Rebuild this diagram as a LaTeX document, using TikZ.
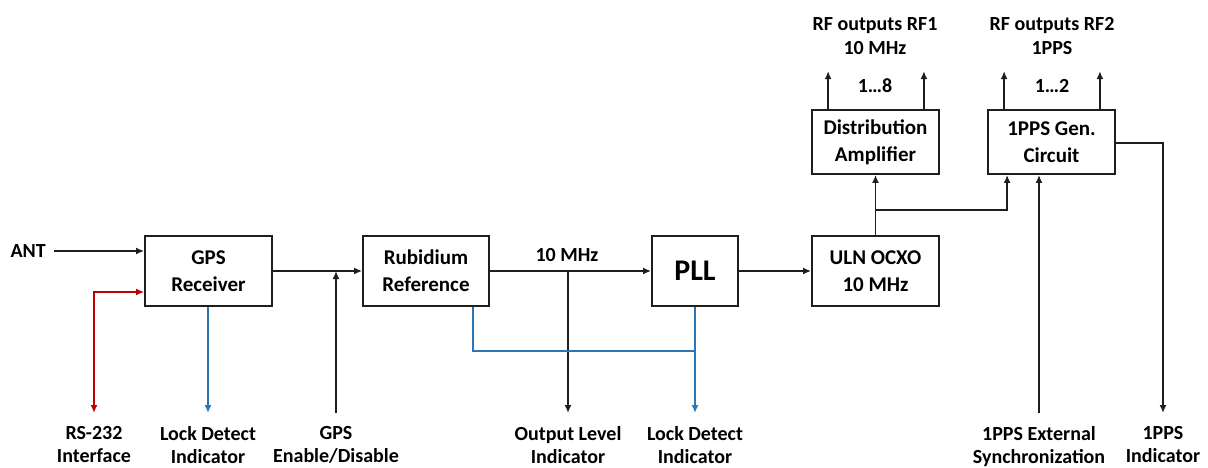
\documentclass[tikz,border=0pt]{standalone}
\usepackage{fontspec}
\setmainfont{Carlito}
\usetikzlibrary{arrows.meta}
\definecolor{rsred}{RGB}{192,0,0}
\definecolor{lockblue}{RGB}{46,117,182}
\definecolor{wire}{RGB}{30,30,30}

\begin{document}
\begin{tikzpicture}[x=1pt,y=-1pt,
  every node/.style={font=\bfseries\fontsize{20}{24}\selectfont},
  block/.style={draw=wire,line width=1.8pt,minimum width=127pt,minimum height=70pt,
    align=center,inner sep=0pt,font=\bfseries\fontsize{21}{27}\selectfont},
  sig/.style={draw=wire,line width=1.8pt,-{Latex[length=8pt,width=7pt]}},
  rsline/.style={draw=rsred,line width=1.8pt,{Latex[length=8pt,width=7pt]}-{Latex[length=8pt,width=7pt]}},
  lockline/.style={draw=lockblue,line width=1.8pt},
  lbl/.style={align=center,anchor=north,inner xsep=0pt,inner ysep=13pt,outer sep=0pt,
    font=\bfseries\fontsize{20}{23}\selectfont}]
  \useasboundingbox (0,0) rectangle (1208,468);

  % blocks
  \node[block] (gps) at (208.5,271) {GPS\\Receiver};
  \node[block,minimum width=126pt] (rub) at (426,271) {Rubidium\\Reference};
  \node[block,minimum width=86pt,font=\bfseries\fontsize{30}{36}\selectfont] (pll) at (695,271) {PLL};
  \node[block] (uln) at (875.5,271) {ULN OCXO\\10 MHz};
  \node[block,minimum height=64pt] (dist) at (875.5,142) {Distribution\\Amplifier};
  \node[block,minimum height=64pt] (gen) at (1051.5,142) {1PPS Gen.\\Circuit};

  % labels
  \node[anchor=east,inner xsep=8pt] (ant) at (54,251) {ANT};
  \node (mhz) at (567,255) {10 MHz};
  \node[align=center] (rfa) at (875,36) {RF outputs RF1\\10 MHz};
  \node[align=center] (rfb) at (1052,36) {RF outputs RF2\\1PPS};
  \node (na) at (875,86) {1…8};
  \node (nb) at (1052,86) {1…2};

  \node[lbl] (rs) at (94,413) {RS-232\\Interface};
  \node[lbl] (lock1) at (208,413) {Lock Detect\\Indicator};
  \node[lbl] (gpsen) at (336,413) {GPS\\Enable/Disable};
  \node[lbl] (outlvl) at (568,413) {Output Level\\Indicator};
  \node[lbl] (lock2) at (695,413) {Lock Detect\\Indicator};
  \node[lbl] (ext) at (1039,413) {1PPS External\\Synchronization};
  \node[lbl] (ppsind) at (1163,413) {1PPS\\Indicator};

  % main chain
  \draw[sig] (ant.east) -- (gps.west |- ant.east);
  \draw[sig] (gps.east) -- (rub.west);
  \draw[sig] (rub.east) -- (pll.west);
  \draw[sig] (pll.east) -- (uln.west);
  \draw[sig] (gpsen.north) -- (gpsen.north |- gps.east);
  \draw[sig] (outlvl.north |- rub.east) -- (outlvl.north);

  % serial and lock detect
  \draw[rsline] (rs.north) |- (gps.west |- 0,292);
  \draw[lockline,-{Latex[length=8pt,width=7pt]}] (gps.south -| lock1.north) -- (lock1.north);
  \draw[lockline] ([xshift=-17pt]rub.south east) |- (pll.south |- 0,351);
  \draw[lockline,-{Latex[length=8pt,width=7pt]}] (pll.south) -- (lock2.north);

  % outputs
  \draw[sig] (uln.north) -- (dist.south);
  \draw[sig] (uln.north |- 0,210) -| ([xshift=20pt]gen.south west);
  \draw[sig] (ext.north) -- (ext.north |- gen.south);
  \draw[sig] (gen.east |- 0,143) -| (ppsind.north);
  \draw[sig] ([xshift=17pt]dist.north west) -- +(0,-38);
  \draw[sig] ([xshift=-16pt]dist.north east) -- +(0,-38);
  \draw[sig] ([xshift=17pt]gen.north west) -- +(0,-38);
  \draw[sig] ([xshift=-16pt]gen.north east) -- +(0,-38);
\end{tikzpicture}
\end{document}
